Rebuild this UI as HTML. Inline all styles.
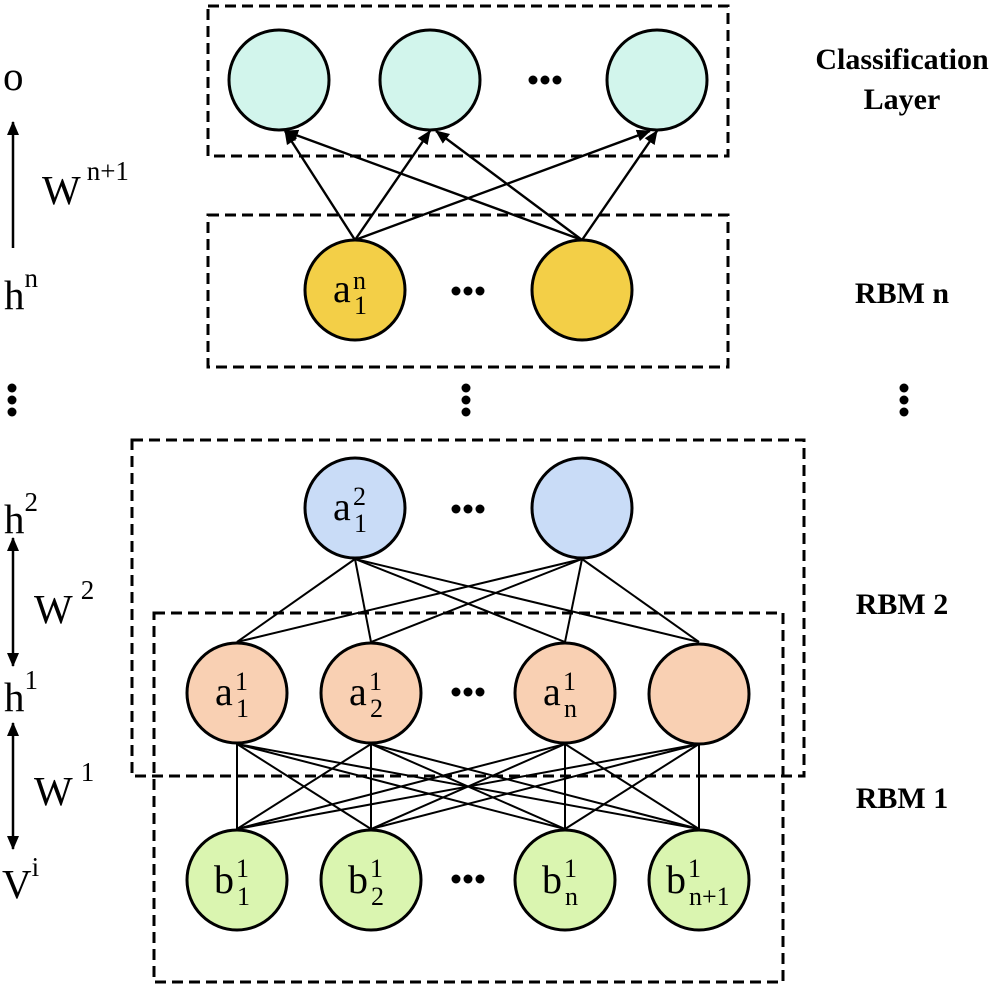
<!DOCTYPE html>
<html><head><meta charset="utf-8"><style>
html,body{margin:0;padding:0;background:#fff;}
svg{display:block;}
text{font-family:"Liberation Serif",serif;fill:#000;}
.b{font-weight:bold;font-size:30px;}
</style></head><body>
<svg width="1000" height="989" viewBox="0 0 1000 989" xmlns="http://www.w3.org/2000/svg">
<defs>
<marker id="ar" markerWidth="14" markerHeight="14" refX="13" refY="7" orient="auto" markerUnits="userSpaceOnUse"><path d="M0,1 L14,7 L0,13 z" fill="#000"/></marker>
<marker id="ar2" markerWidth="14" markerHeight="14" refX="13" refY="7" orient="auto" markerUnits="userSpaceOnUse"><path d="M0,1 L14,7 L0,13 z" fill="#000"/></marker>
</defs>
<g fill="none" stroke="#000" stroke-width="3" stroke-dasharray="11,6">
<rect x="208" y="6" width="520" height="150"/>
<rect x="208" y="215" width="520" height="152"/>
<rect x="132" y="440" width="672" height="336"/>
<rect x="154" y="613" width="629" height="369"/>
</g>
<g stroke="#000" stroke-width="2.4">
<line x1="355" y1="240" x2="285" y2="131" marker-end="url(#ar)"/>
<line x1="355" y1="240" x2="430" y2="131" marker-end="url(#ar)"/>
<line x1="355" y1="240" x2="650" y2="131" marker-end="url(#ar)"/>
<line x1="582" y1="240" x2="285" y2="131" marker-end="url(#ar)"/>
<line x1="582" y1="240" x2="436" y2="131" marker-end="url(#ar)"/>
<line x1="582" y1="240" x2="657" y2="131" marker-end="url(#ar)"/>
</g>
<g stroke="#000" stroke-width="2">
<line x1="355" y1="559" x2="237" y2="642"/><line x1="355" y1="559" x2="371" y2="642"/><line x1="355" y1="559" x2="565" y2="642"/><line x1="355" y1="559" x2="699" y2="642"/>
<line x1="582" y1="559" x2="237" y2="642"/><line x1="582" y1="559" x2="371" y2="642"/><line x1="582" y1="559" x2="565" y2="642"/><line x1="582" y1="559" x2="699" y2="642"/>
<line x1="237" y1="744" x2="237" y2="829"/><line x1="237" y1="744" x2="371" y2="829"/><line x1="237" y1="744" x2="565" y2="829"/><line x1="237" y1="744" x2="699" y2="829"/>
<line x1="371" y1="744" x2="237" y2="829"/><line x1="371" y1="744" x2="371" y2="829"/><line x1="371" y1="744" x2="565" y2="829"/><line x1="371" y1="744" x2="699" y2="829"/>
<line x1="565" y1="744" x2="237" y2="829"/><line x1="565" y1="744" x2="371" y2="829"/><line x1="565" y1="744" x2="565" y2="829"/><line x1="565" y1="744" x2="699" y2="829"/>
<line x1="699" y1="744" x2="237" y2="829"/><line x1="699" y1="744" x2="371" y2="829"/><line x1="699" y1="744" x2="565" y2="829"/><line x1="699" y1="744" x2="699" y2="829"/>
</g>
<g stroke="#000" stroke-width="3">
<circle cx="279" cy="80" r="50" fill="#d2f5ec"/>
<circle cx="430" cy="80" r="50" fill="#d2f5ec"/>
<circle cx="657" cy="80" r="50" fill="#d2f5ec"/>
<circle cx="355" cy="290" r="50" fill="#f3cf47"/>
<circle cx="582" cy="290" r="50" fill="#f3cf47"/>
<circle cx="355" cy="508" r="50" fill="#c9dcf7"/>
<circle cx="582" cy="508" r="50" fill="#c9dcf7"/>
<circle cx="237" cy="693" r="50" fill="#f9d0b3"/>
<circle cx="371" cy="693" r="50" fill="#f9d0b3"/>
<circle cx="565" cy="693" r="50" fill="#f9d0b3"/>
<circle cx="699" cy="694" r="50" fill="#f9d0b3"/>
<circle cx="237" cy="880" r="50" fill="#daf5b0"/>
<circle cx="371" cy="880" r="50" fill="#daf5b0"/>
<circle cx="565" cy="880" r="50" fill="#daf5b0"/>
<circle cx="699" cy="880" r="50" fill="#daf5b0"/>
</g>
<g fill="#000">
<circle cx="533" cy="80" r="4.5"/><circle cx="545" cy="80" r="4.5"/><circle cx="557" cy="80" r="4.5"/>
<circle cx="456" cy="291" r="4.5"/><circle cx="468" cy="291" r="4.5"/><circle cx="480" cy="291" r="4.5"/>
<circle cx="456" cy="509" r="4.5"/><circle cx="468" cy="509" r="4.5"/><circle cx="480" cy="509" r="4.5"/>
<circle cx="456" cy="692" r="4.5"/><circle cx="468" cy="692" r="4.5"/><circle cx="480" cy="692" r="4.5"/>
<circle cx="456" cy="879" r="4.5"/><circle cx="468" cy="879" r="4.5"/><circle cx="480" cy="879" r="4.5"/>
<circle cx="12" cy="388" r="4.5"/><circle cx="12" cy="400" r="4.5"/><circle cx="12" cy="412" r="4.5"/>
<circle cx="466" cy="388" r="4.5"/><circle cx="466" cy="400" r="4.5"/><circle cx="466" cy="412" r="4.5"/>
<circle cx="904" cy="388" r="4.5"/><circle cx="904" cy="400" r="4.5"/><circle cx="904" cy="412" r="4.5"/>
</g>
<g stroke="#000" stroke-width="2.5">
<line x1="13" y1="248" x2="13" y2="122" marker-end="url(#ar2)"/>
<line x1="13" y1="600" x2="13" y2="538" marker-end="url(#ar2)"/>
<line x1="13" y1="600" x2="13" y2="666" marker-end="url(#ar2)"/>
<line x1="13" y1="785" x2="13" y2="723" marker-end="url(#ar2)"/>
<line x1="13" y1="785" x2="13" y2="849" marker-end="url(#ar2)"/>
</g>
<g font-size="41">
<text x="3" y="90">o</text>
<text x="42" y="204">W<tspan font-size="27" dx="6" dy="-24">n+1</tspan></text>
<text x="4" y="309">h<tspan font-size="27" dy="-22">n</tspan></text>
<text x="4" y="533">h<tspan font-size="27" dy="-22">2</tspan></text>
<text x="34" y="623">W<tspan font-size="27" dx="8" dy="-24">2</tspan></text>
<text x="4" y="711">h<tspan font-size="27" dy="-22">1</tspan></text>
<text x="34" y="805">W<tspan font-size="27" dx="8" dy="-24">1</tspan></text>
<text x="2" y="898">V<tspan font-size="27" dy="-22">i</tspan></text>
</g>
<g font-size="40">
<text x="333" y="302">a</text><text x="353" y="289" font-size="26">n</text><text x="354" y="314" font-size="26">1</text>
<text x="333" y="520">a</text><text x="353" y="505" font-size="26">2</text><text x="354" y="532" font-size="26">1</text>
<text x="215" y="705">a</text><text x="235" y="690" font-size="26">1</text><text x="236" y="717" font-size="26">1</text>
<text x="349" y="705">a</text><text x="369" y="690" font-size="26">1</text><text x="370" y="717" font-size="26">2</text>
<text x="543" y="705">a</text><text x="563" y="690" font-size="26">1</text><text x="564" y="717" font-size="26">n</text>
<text x="214" y="893">b</text><text x="236" y="877" font-size="26">1</text><text x="237" y="905" font-size="26">1</text>
<text x="348" y="893">b</text><text x="370" y="877" font-size="26">1</text><text x="371" y="905" font-size="26">2</text>
<text x="542" y="893">b</text><text x="564" y="877" font-size="26">1</text><text x="565" y="905" font-size="26">n</text>
<text x="666" y="893">b</text><text x="688" y="877" font-size="26">1</text><text x="689" y="905" font-size="26">n+1</text>
</g>
<g text-anchor="middle">
<text x="902" y="69" class="b">Classification</text>
<text x="902" y="109" class="b">Layer</text>
<text x="902" y="303" class="b">RBM n</text>
<text x="902" y="614" class="b">RBM 2</text>
<text x="902" y="808" class="b">RBM 1</text>
</g>
</svg>
</body></html>
